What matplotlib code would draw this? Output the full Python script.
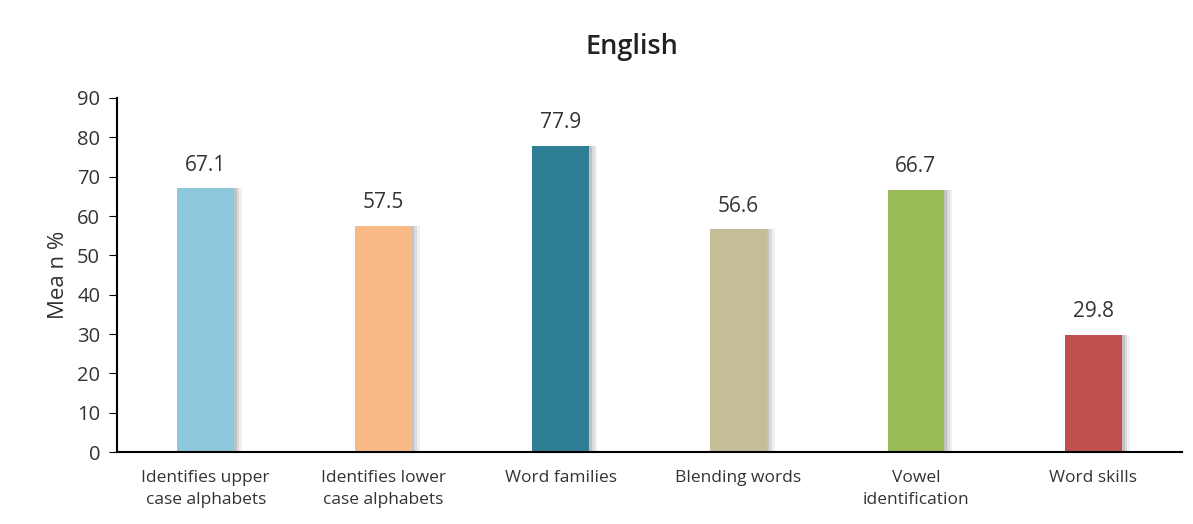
import numpy as np
import matplotlib.pyplot as plt

# data
categories = ["Identifies upper\ncase alphabets", "Identifies lower\ncase alphabets",
              "Word families", "Blending words", "Vowel\nidentification", "Word skills"]
values = [67.1, 57.5, 77.9, 56.6, 66.7, 29.8]
colors = ["#8DC8DC", "#F8BB87", "#2E7E96", "#C5BD98", "#9BBB58", "#C0504D"]

plt.rcParams['font.family'] = ['Open Sans', 'DejaVu Sans']

fig = plt.figure(figsize=(11.93, 5.24), dpi=100)
ax = fig.add_axes([0.098, 0.137, 0.893, 0.676])

x = np.arange(len(categories))
w = 0.32
# soft shadow on the right side of each bar
for off, a in [(0.045, 0.12), (0.03, 0.2), (0.015, 0.3)]:
    ax.bar(x + off, values, width=w, color="#888888", alpha=a, zorder=1, linewidth=0)
bars = ax.bar(x, values, width=w, color=colors, zorder=2, linewidth=0)

for xi, v in zip(x, values):
    ax.annotate(f"{v}", (xi, v), xytext=(0, 9), textcoords="offset points",
                ha="center", va="bottom", fontsize=15, color="#333333")

ax.set_xlim(-0.5, len(categories) - 0.5)
ax.set_ylim(0, 90)
ax.set_yticks(np.arange(0, 91, 10))
ax.set_xticks(x)
ax.set_xticklabels(categories, fontsize=12.5, color="#333333", linespacing=1.5)
ax.tick_params(axis='y', labelsize=14.5, labelcolor="#333333", length=6,
               direction='out', pad=6)
ax.tick_params(axis='x', length=0, pad=13)

ax.spines['top'].set_visible(False)
ax.spines['right'].set_visible(False)
ax.spines['left'].set_linewidth(1.5)
ax.spines['bottom'].set_linewidth(1.5)

ax.set_ylabel("Mea n %", fontsize=16, color="#333333", labelpad=6)
fig.text(0.53, 0.91, "English", fontsize=19.5, ha="center", va="center",
         color="#222222", fontweight="semibold")

fig.savefig("out.png", dpi=100)
